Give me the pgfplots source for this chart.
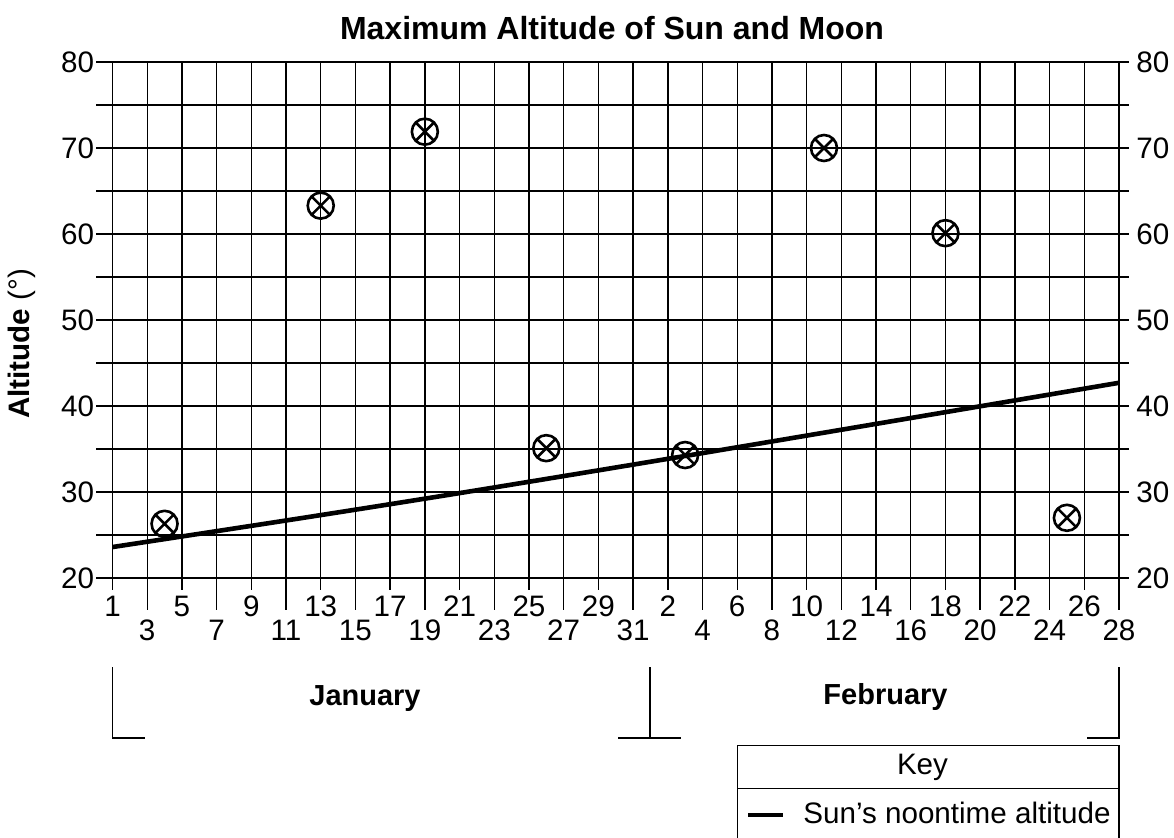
\documentclass[border=0pt]{standalone}
\usepackage{pgfplots}
\pgfplotsset{compat=1.18}
\usepackage{fontspec}
\setmainfont{Liberation Sans}
\usetikzlibrary{plotmarks}

\newcommand{\tfont}{\fontsize{14.8}{17}\selectfont}

\begin{document}
\begin{tikzpicture}[line width=0.7pt]
\useasboundingbox (-56.25pt,-129.5pt) rectangle (530.75pt,289pt);

% main grid, data
\begin{axis}[
    at={(0pt,0pt)}, anchor=south west,
    scale only axis, width=503.25pt, height=258pt,
    xmin=1, xmax=59, ymin=20, ymax=80,
    clip=false,
    axis line style={black, line width=0.7pt},
    major tick length=0pt, minor tick length=0pt,
    xtick={1,5,...,57},
    xticklabels={1,5,9,13,17,21,25,29,2,6,10,14,18,22,26},
    extra x ticks={3,7,...,59},
    extra x tick labels={3,7,11,15,19,23,27,31,4,8,12,16,20,24,28},
    extra x tick style={grid=major, tick label style={yshift=-12pt}},
    xticklabel style={anchor=center, inner sep=0pt, yshift=-14pt, font=\tfont},
    ytick={20,30,...,80},
    minor ytick={25,35,...,75},
    yticklabel pos=left,
    yticklabel style={anchor=east, inner sep=0pt, xshift=-9pt, font=\tfont},
    /pgf/number format/assume math mode=true,
    grid=both,
    grid style={black, line width=0.7pt},
    minor grid style={black, line width=0.7pt},
]

% Sun's noontime altitude
\addplot[black, line width=2.3pt, mark=none, smooth] coordinates {
    (1,23.6) (12,27.0) (22,30.2) (37,35.2) (59,42.7)
};

% Moon
\addplot[only marks, mark=otimes, mark size=6.5pt,
    mark options={black, line width=1.3pt}] coordinates {
    (4,26.3) (13,63.3) (19,71.9) (26,35.1)
    (34,34.3) (42,70.0) (49,60.1) (56,27.0)
};

% tick extensions
\pgfplotsinvokeforeach{20,25,...,80}{
    \draw[black, line width=0.7pt] (axis cs:1,#1) -- ++(-8pt,0pt);
    \draw[black, line width=0.7pt] (axis cs:59,#1) -- ++(5pt,0pt);
}
\pgfplotsinvokeforeach{1,5,...,57}{
    \draw[black, line width=0.7pt] (axis cs:#1,20) -- ++(0pt,-5.75pt);
}
\pgfplotsinvokeforeach{3,7,...,59}{
    \draw[black, line width=0.7pt] (axis cs:#1,20) -- ++(0pt,-16pt);
}
\end{axis}

% right-hand labels
\begin{axis}[
    at={(0pt,0pt)}, anchor=south west,
    scale only axis, width=503.25pt, height=258pt,
    xmin=1, xmax=59, ymin=20, ymax=80,
    axis line style={draw=none},
    major tick length=0pt,
    xtick=\empty,
    ytick={20,30,...,80},
    yticklabel pos=right,
    yticklabel style={anchor=west, inner sep=0pt, xshift=8.5pt, font=\tfont},
    /pgf/number format/assume math mode=true,
]
\end{axis}

\node[font=\fontsize{16}{19}\selectfont\bfseries] at (249.75pt,275pt) {Maximum Altitude of Sun and Moon};
\node[rotate=90, font=\tfont] at (-45.25pt,117pt) {\textbf{Altitude} (°)};

% month brackets
\draw (0pt,-44.5pt) -- (0pt,-80pt) -- (16.25pt,-80pt);
\draw (268.75pt,-44.5pt) -- (268.75pt,-80pt);
\draw (252.75pt,-80pt) -- (284.25pt,-80pt);
\draw (503.25pt,-44.5pt) -- (503.25pt,-80pt) -- (487.25pt,-80pt);
\node[font=\fontsize{14.5}{17}\selectfont\bfseries] at (126.25pt,-60.5pt) {January};
\node[font=\fontsize{14.5}{17}\selectfont\bfseries] at (386.5pt,-59.5pt) {February};

% key
\draw (312.4pt,-140pt) -- (312.4pt,-83.85pt) -- (503.25pt,-83.85pt) -- (503.25pt,-140pt);
\draw (312.4pt,-105.15pt) -- (503.25pt,-105.15pt);
\node[font=\tfont] at (405pt,-94.5pt) {Key};
\draw[line width=2pt] (317.75pt,-118.5pt) -- (335.25pt,-118.5pt);
\node[font=\tfont, anchor=west, inner sep=0pt] at (345.25pt,-117.25pt) {Sun’s noontime altitude};
\end{tikzpicture}
\end{document}
